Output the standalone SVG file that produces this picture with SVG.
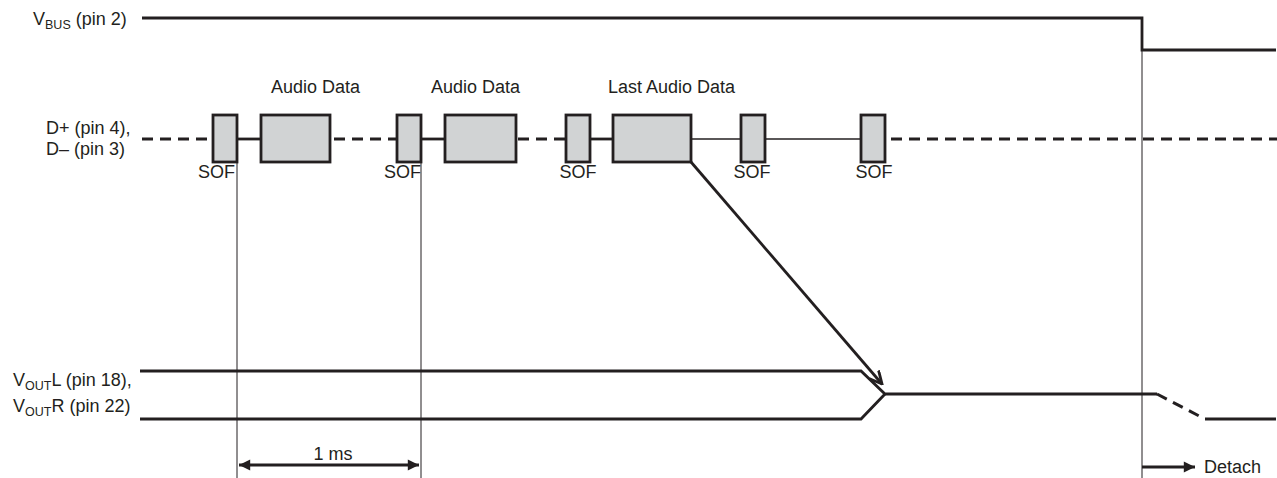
<svg xmlns="http://www.w3.org/2000/svg" width="1277" height="478" viewBox="0 0 1277 478">
<defs>
<style>
text{font-family:"Liberation Sans",Arial,sans-serif;font-size:18px;fill:#231f20}
.sub{font-size:12.5px}
.sig{stroke:#231f20;stroke-width:2.8;fill:none}
.thin{stroke:#231f20;stroke-width:1.6;fill:none}
.dash{stroke:#231f20;stroke-width:3;fill:none;stroke-dasharray:11,7}
.grid{stroke:#231f20;stroke-width:1;fill:none}
.box{fill:#d1d3d4;stroke:#231f20;stroke-width:2.8}
</style>
<marker id="ah" viewBox="0 0 10 10" refX="10" refY="5" markerWidth="4.5" markerHeight="4" orient="auto-start-reverse"><path d="M0,0 L10,5 L0,10 z" fill="#231f20"/></marker>
<marker id="ov" viewBox="0 0 10 10" refX="9" refY="5" markerWidth="5" markerHeight="5" orient="auto"><path d="M0,0.5 L9,5 L0,9.5" fill="none" stroke="#231f20" stroke-width="2"/></marker>
</defs>
<g id="labels">
<text x="33" y="25">V<tspan class="sub" dy="4">BUS</tspan><tspan dy="-4"> (pin 2)</tspan></text>
<text x="46" y="134">D+ (pin 4),</text>
<text x="46" y="155">D– (pin 3)</text>
<text x="13" y="386">V<tspan class="sub" dy="4">OUT</tspan><tspan dy="-4">L (pin 18),</tspan></text>
<text x="13" y="412">V<tspan class="sub" dy="4">OUT</tspan><tspan dy="-4">R (pin 22)</tspan></text>
<text x="271" y="93">Audio Data</text>
<text x="431" y="93">Audio Data</text>
<text x="608" y="93">Last Audio Data</text>
<text x="235" y="178" text-anchor="end">SOF</text>
<text x="421" y="178" text-anchor="end">SOF</text>
<text x="578" y="178" text-anchor="middle">SOF</text>
<text x="752" y="178" text-anchor="middle">SOF</text>
<text x="874" y="178" text-anchor="middle">SOF</text>
<text x="333" y="460" text-anchor="middle">1 ms</text>
<text x="1204" y="473">Detach</text>
</g>
<g id="grid">
<line class="grid" x1="237" y1="163" x2="237" y2="478"/>
<line class="grid" x1="421" y1="163" x2="421" y2="478"/>
<line class="grid" x1="1142" y1="50" x2="1142" y2="478"/>
</g>
<g id="vbus">
<polyline class="sig" points="142,18 1142,18 1142,50 1276,50"/>
</g>
<g id="dline">
<line class="dash" x1="142" y1="139" x2="213" y2="139"/>
<line class="sig" x1="237" y1="139" x2="261" y2="139"/>
<line class="dash" x1="330" y1="139" x2="397" y2="139" stroke-dashoffset="-4"/>
<line class="sig" x1="421" y1="139" x2="445" y2="139"/>
<line class="dash" x1="516" y1="139" x2="566" y2="139" stroke-dashoffset="-2"/>
<line class="sig" x1="590" y1="139" x2="613" y2="139"/>
<line class="thin" x1="691" y1="139" x2="741" y2="139"/>
<line class="thin" x1="765" y1="139" x2="861" y2="139"/>
<line class="dash" x1="891" y1="139" x2="1277" y2="139"/>
</g>
<g id="sof1"><rect class="box" x="213" y="115" width="24" height="47"/></g>
<g id="audio1"><rect class="box" x="261" y="115" width="69" height="47"/></g>
<g id="sof2"><rect class="box" x="397" y="115" width="24" height="47"/></g>
<g id="audio2"><rect class="box" x="445" y="115" width="71" height="47"/></g>
<g id="sof3"><rect class="box" x="566" y="115" width="24" height="47"/></g>
<g id="audio3"><rect class="box" x="613" y="115" width="78" height="47"/></g>
<g id="sof4"><rect class="box" x="741" y="115" width="24" height="47"/></g>
<g id="sof5"><rect class="box" x="861" y="115" width="24" height="47"/></g>
<g id="vout">
<polyline class="sig" points="140,371 861,371 885,394 1157,394"/>
<polyline class="sig" points="140,419 861,419 885,394"/>
<line class="dash" x1="1157" y1="394" x2="1203" y2="418" stroke-dasharray="9,7"/>
<line class="sig" x1="1205" y1="419" x2="1276" y2="419"/>
</g>
<g id="connectors">
<line class="sig" x1="691" y1="162" x2="882" y2="384" marker-end="url(#ov)"/>
<line class="sig" stroke-width="3" x1="239" y1="465" x2="419" y2="465" marker-start="url(#ah)" marker-end="url(#ah)"/>
<line class="sig" stroke-width="3" x1="1142" y1="467" x2="1195" y2="467" marker-end="url(#ah)"/>
</g>
</svg>
